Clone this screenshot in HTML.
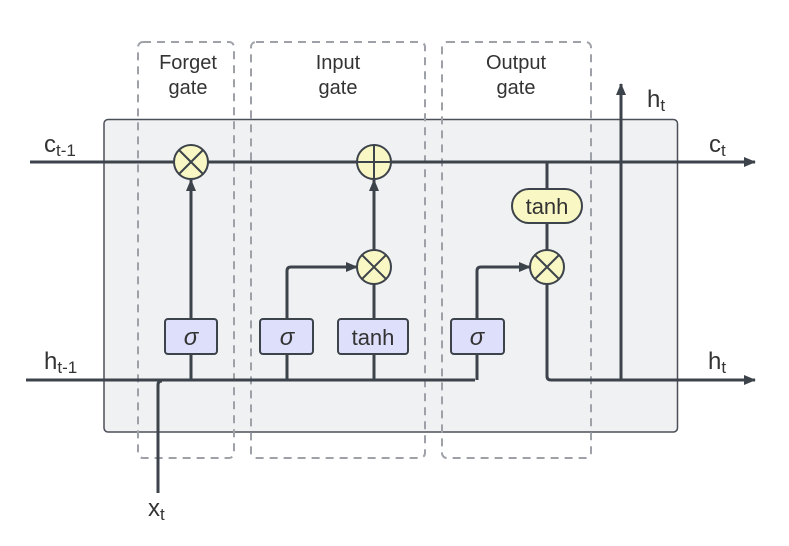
<!DOCTYPE html>
<html><head><style>body{margin:0;background:#fff}svg{display:block}text{font-family:"Liberation Sans",sans-serif;fill:#333}</style></head>
<body>
<svg width="789" height="546" viewBox="0 0 789 546" xmlns="http://www.w3.org/2000/svg">
<defs>
<marker id="a" markerWidth="12" markerHeight="10" refX="11" refY="5" orient="auto" markerUnits="userSpaceOnUse"><path d="M0,0 L12,5 L0,10 Z" fill="#3d434b"/></marker>
</defs>
<rect x="104" y="119.5" width="573.5" height="312.5" rx="4" fill="#f0f1f3" stroke="#4b5058" stroke-width="1.5"/>
<g fill="none" stroke="#9ea2a8" stroke-width="2" stroke-dasharray="8,6">
<rect x="138" y="42" width="96" height="416" rx="5"/>
<rect x="251" y="42" width="174" height="416" rx="5"/>
<rect x="442" y="42" width="149" height="416" rx="5"/>
</g>
<g fill="none" stroke="#3d434b" stroke-width="3">
<line x1="30" y1="162" x2="755" y2="162" marker-end="url(#a)"/>
<line x1="26" y1="380" x2="475" y2="380"/>
<path d="M158,493 V385 Q158,381 162,381"/>
<line x1="191" y1="380" x2="191" y2="354"/>
<line x1="191" y1="319" x2="191" y2="180" marker-end="url(#a)"/>
<path d="M287,380 V354 M287,319 V271 Q287,267 291,267 H357" marker-end="url(#a)"/>
<line x1="374" y1="380" x2="374" y2="354"/>
<line x1="374" y1="319" x2="374" y2="284"/>
<line x1="374" y1="250" x2="374" y2="180" marker-end="url(#a)"/>
<path d="M477,380 V354"/>
<path d="M477,319 V271 Q477,267 481,267 H530" marker-end="url(#a)"/>
<line x1="547" y1="162" x2="547" y2="250"/>
<path d="M547,284 V376 Q547,380 551,380 H755" marker-end="url(#a)"/>
<line x1="621" y1="380" x2="621" y2="84" marker-end="url(#a)"/>
</g>
<g stroke="#3d434b" stroke-width="2">
<circle cx="191" cy="162" r="17" fill="#f9f8c4"/>
<path d="M179,150 L203,174 M203,150 L179,174"/>
<circle cx="374" cy="162" r="17" fill="#f9f8c4"/>
<path d="M374,145 V179 M357,162 H391"/>
<circle cx="374" cy="267" r="17" fill="#f9f8c4"/>
<path d="M362,255 L386,279 M386,255 L362,279"/>
<circle cx="547" cy="267" r="17" fill="#f9f8c4"/>
<path d="M535,255 L559,279 M559,255 L535,279"/>
<rect x="512" y="189" width="70" height="34" rx="17" fill="#f9f8c4"/>
<rect x="165" y="319" width="52" height="35" rx="3" fill="#dddffb"/>
<rect x="260" y="319" width="53" height="35" rx="3" fill="#dddffb"/>
<rect x="338" y="319" width="70" height="35" rx="3" fill="#dddffb"/>
<rect x="451" y="319" width="53" height="35" rx="3" fill="#dddffb"/>
</g>
<g font-size="20" text-anchor="middle">
<text x="188" y="69">Forget</text><text x="188" y="94">gate</text>
<text x="338" y="69">Input</text><text x="338" y="94">gate</text>
<text x="516" y="69">Output</text><text x="516" y="94">gate</text>
<text x="547" y="214" font-size="22">tanh</text>
<text x="373" y="345" font-size="22">tanh</text>
<text x="191" y="345" font-size="24" font-style="italic" fill="#111">σ</text>
<text x="287" y="345" font-size="24" font-style="italic" fill="#111">σ</text>
<text x="477" y="345" font-size="24" font-style="italic" fill="#111">σ</text>
</g>
<g font-size="24">
<text x="44" y="152">c<tspan font-size="17" dy="4">t-1</tspan></text>
<text x="709" y="152">c<tspan font-size="17" dy="4">t</tspan></text>
<text x="44" y="369">h<tspan font-size="17" dy="4">t-1</tspan></text>
<text x="708" y="369">h<tspan font-size="17" dy="4">t</tspan></text>
<text x="647" y="107">h<tspan font-size="17" dy="4">t</tspan></text>
<text x="148" y="516">x<tspan font-size="17" dy="4">t</tspan></text>
</g>
</svg>
</body></html>
